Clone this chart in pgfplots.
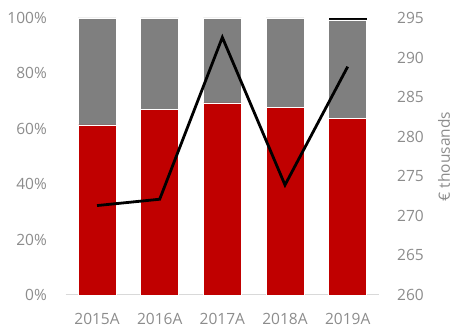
\documentclass[border=0pt]{standalone}
\usepackage{fontspec}
\setmainfont{Open Sans}
\usepackage{pgfplots}
\pgfplotsset{compat=1.18}
\definecolor{barred}{HTML}{C00000}
\definecolor{bargray}{HTML}{7F7F7F}
\definecolor{txt}{HTML}{8C8C8C}
\definecolor{axl}{HTML}{D9D9D9}
\newcommand{\lblfont}{\fontsize{15.5}{18}\selectfont}
\begin{document}
\begin{tikzpicture}
\useasboundingbox (-65.7pt,-36pt) rectangle (386.3pt,295pt);
\begin{axis}[
  at={(0,0)}, anchor=south west,
  scale only axis, width=313.3pt, height=277pt,
  ybar stacked, bar width=38pt,
  xmin=-0.5, xmax=4.5, ymin=0, ymax=100,
  xtick={0,1,2,3,4}, xticklabels={2015A,2016A,2017A,2018A,2019A},
  ytick={0,20,40,60,80,100}, yticklabel={\pgfmathprintnumber{\tick}\%},
  axis x line*=bottom, axis y line*=left,
  x axis line style={axl, line width=1pt, -},
  y axis line style={draw=none},
  tick style={draw=none}, major tick length=0pt,
  ticklabel style={font=\lblfont, text=txt},
  yticklabel style={inner sep=0pt, anchor=east, xshift=-18.7pt},
  xticklabel style={inner sep=0pt, anchor=north, yshift=-18.3pt},
  /pgf/number format/assume math mode=true,
]
\addplot[fill=barred, draw=white, line width=0.4pt] coordinates {(0,61.4) (1,67.0) (2,69.4) (3,67.7) (4,63.8)};
\addplot[fill=bargray, draw=white, line width=0.4pt] coordinates {(0,38.6) (1,33.0) (2,30.6) (3,32.3) (4,35.5)};
\addplot[fill=black, draw=none] coordinates {(0,0) (1,0) (2,0) (3,0) (4,0.7)};
\end{axis}
\begin{axis}[
  at={(0,0)}, anchor=south west,
  scale only axis, width=313.3pt, height=277pt,
  xmin=-0.5, xmax=4.5, ymin=260, ymax=295,
  axis x line=none, xtick=\empty,
  axis y line*=right, y axis line style={draw=none},
  ytick={260,265,270,275,280,285,290,295},
  tick style={draw=none}, major tick length=0pt,
  yticklabel style={inner sep=0pt, anchor=west, xshift=18pt, font=\lblfont, text=txt},
  /pgf/number format/assume math mode=true,
  ylabel={€ thousands},
  ylabel style={at={(axis description cs:1.2075,0.5)}, anchor=center, inner sep=0pt, font=\lblfont, text=txt},
]
\addplot[black, line width=2.8pt] coordinates {(0,271.3) (1,272.1) (2,292.55) (3,273.9) (4,288.85)};
\end{axis}
\end{tikzpicture}
\end{document}
